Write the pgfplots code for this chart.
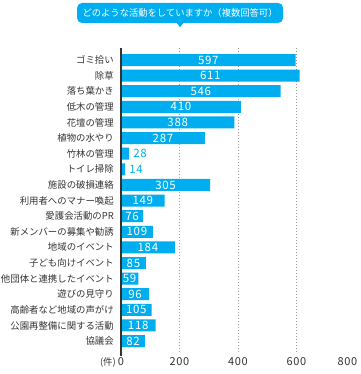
\documentclass[border=0pt]{standalone}
\usepackage{fontspec}
\setmainfont{Noto Sans CJK JP}
\newfontfamily\numfont[LetterSpace=6]{Noto Sans CJK JP}
\usepackage{pgfplots}
\pgfplotsset{compat=1.18}
\usepackage{pgfplotstable}
\definecolor{barblue}{HTML}{00AEEF}
\definecolor{txt}{HTML}{333333}
\definecolor{gridc}{HTML}{9A9A9A}

\pgfplotstableread{
i v h
0 597 298.5
1 611 305.5
2 546 273
3 410 205
4 388 194
5 287 143.5
6 28 14
7 14 7
8 305 152.5
9 149 74.5
10 76 38
11 109 54.5
12 184 92
13 85 42.5
14 59 29.5
15 96 48
16 105 52.5
17 118 59
18 82 41
}\alldata

\pgfplotstableread{
i v h
0 597 298.5
1 611 305.5
2 546 273
3 410 205
4 388 194
5 287 143.5
8 305 152.5
9 149 74.5
10 76 38
11 109 54.5
12 184 92
13 85 42.5
14 59 29.5
15 96 48
16 105 52.5
17 118 59
18 82 41
}\inside

\pgfplotstableread{
i v
6 28
7 14
}\outside

\begin{document}
\begin{tikzpicture}
\begin{axis}[
  scale only axis, width=234pt, height=304pt,
  at={(0,0)}, anchor=south west,
  xmin=0, xmax=800, ymin=-0.77, ymax=18.7, y dir=reverse,
  axis line style={draw=none},
  xtick={200,400,600}, extra x ticks={0}, extra x tick style={grid=none},
  xmajorgrids, grid style={gridc, dash pattern=on 0.9pt off 2.1pt, line width=0.9pt},
  ytick={0,...,18},
  yticklabels={ゴミ拾い,除草,落ち葉かき,低木の管理,花壇の管理,植物の水やり,竹林の管理,トイレ掃除,施設の破損連絡,利用者へのマナー喚起,愛護会活動のPR,新メンバーの募集や勧誘,地域のイベント,子ども向けイベント,他団体と連携したイベント,遊びの見守り,高齢者など地域の声がけ,公園再整備に関する活動,協議会},
  major tick length=0pt,
  /pgf/number format/assume math mode=true,
  tick label style={text=txt},
  yticklabel style={inner sep=0pt, xshift=-7pt, anchor=east, font=\fontsize{9.4}{10}\selectfont},
  xticklabel style={inner sep=0pt, yshift=-5pt, anchor=north, font=\numfont\fontsize{11}{10}\selectfont},
  clip=false,
]
\addplot[xbar, bar width=12pt, fill=barblue, draw=none] table[x=v, y=i] {\alldata};
\addplot[draw=none, nodes near coords, point meta=explicit symbolic,
  every node near coord/.append style={anchor=center, text=white, inner sep=0pt, font=\numfont\fontsize{11.5}{10}\selectfont}]
  table[x=h, y=i, meta=v] {\inside};
\addplot[draw=none, nodes near coords, point meta=explicit symbolic,
  every node near coord/.append style={anchor=west, xshift=4pt, text=barblue, inner sep=0pt, font=\numfont\fontsize{11.5}{10}\selectfont}]
  table[x=v, y=i, meta=v] {\outside};
\draw[line width=2pt, txt] (axis cs:0,-0.8) -- (axis cs:0,18.95);
\node[anchor=north, inner sep=0pt, xshift=-7.5pt, yshift=-5pt, text=txt, font=\numfont\fontsize{11}{10}\selectfont] at (axis cs:800,18.7) {800};
\node[anchor=north east, inner sep=0pt, xshift=-5pt, yshift=-5pt, text=txt, font=\fontsize{9.4}{10}\selectfont] at (axis cs:0,18.7) {(件)};
\node[fill=barblue, rounded corners=5pt, minimum width=206pt, minimum height=20pt, inner sep=0pt, text=white, font=\fontsize{9.3}{10}\selectfont] (T) at ([yshift=35pt]axis cs:202,-0.77) {どのような活動をしていますか（複数回答可）};
\fill[barblue] ([xshift=-3.5pt,yshift=0.5pt]T.south) -- ([xshift=3.5pt,yshift=0.5pt]T.south) -- ([yshift=-4pt]T.south) -- cycle;
\end{axis}
\pgfresetboundingbox
\path[use as bounding box] (-121pt,-22pt) rectangle (239pt,352pt);
\end{tikzpicture}
\end{document}
